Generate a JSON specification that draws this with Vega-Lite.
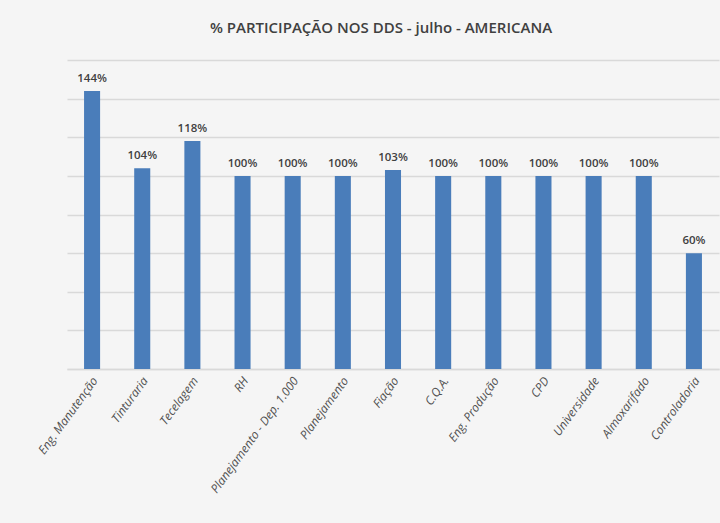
{
  "$schema": "https://vega.github.io/schema/vega-lite/v6.json",
  "autosize": "none",
  "width": 652,
  "height": 309,
  "padding": {"left": 67, "top": 60, "right": 1, "bottom": 154},
  "background": "#f5f5f5",
  "title": {
    "text": "% PARTICIPAÇÃO NOS DDS - julho - AMERICANA",
    "font": "Open Sans",
    "fontSize": 15,
    "fontWeight": 600,
    "color": "#404040",
    "anchor": "middle",
    "dx": -12,
    "offset": 24
  },
  "data": {
    "values": [
      {"setor": "Eng. Manutenção", "valor": 1.44},
      {"setor": "Tinturaria", "valor": 1.04},
      {"setor": "Tecelagem", "valor": 1.18},
      {"setor": "RH", "valor": 1.0},
      {"setor": "Planejamento - Dep. 1.000", "valor": 1.0},
      {"setor": "Planejamento", "valor": 1.0},
      {"setor": "Fiação", "valor": 1.03},
      {"setor": "C.Q.A.", "valor": 1.0},
      {"setor": "Eng. Produção", "valor": 1.0},
      {"setor": "CPD", "valor": 1.0},
      {"setor": "Universidade", "valor": 1.0},
      {"setor": "Almoxarifado", "valor": 1.0},
      {"setor": "Controladoria", "valor": 0.6}
    ]
  },
  "encoding": {
    "x": {
      "field": "setor",
      "type": "nominal",
      "sort": null,
      "scale": {"paddingInner": 0.68, "paddingOuter": 0.34},
      "axis": {
        "title": null,
        "labelAngle": -54,
        "labelFont": "Open Sans",
        "labelFontStyle": "italic",
        "labelFontSize": 12,
        "labelColor": "#505050",
        "labelPadding": 9,
        "labelOffset": 3,
        "ticks": false,
        "domainColor": "#d9d9d9",
        "domainWidth": 1.5
      }
    },
    "y": {
      "field": "valor",
      "type": "quantitative",
      "scale": {"domain": [0, 1.6], "nice": false},
      "axis": {
        "title": null,
        "labels": false,
        "ticks": false,
        "domain": false,
        "values": [0, 0.2, 0.4, 0.6, 0.8, 1.0, 1.2, 1.4, 1.6],
        "gridColor": "#d9d9d9",
        "gridWidth": 1.5
      }
    }
  },
  "layer": [
    {"mark": {"type": "bar", "color": "#4a7dba"}},
    {
      "mark": {
        "type": "text",
        "baseline": "bottom",
        "dy": -7,
        "font": "Open Sans",
        "fontSize": 11.5,
        "fontWeight": 600,
        "color": "#404040"
      },
      "encoding": {"text": {"field": "valor", "type": "quantitative", "format": ".0%"}}
    }
  ],
  "config": {"view": {"stroke": null}}
}
